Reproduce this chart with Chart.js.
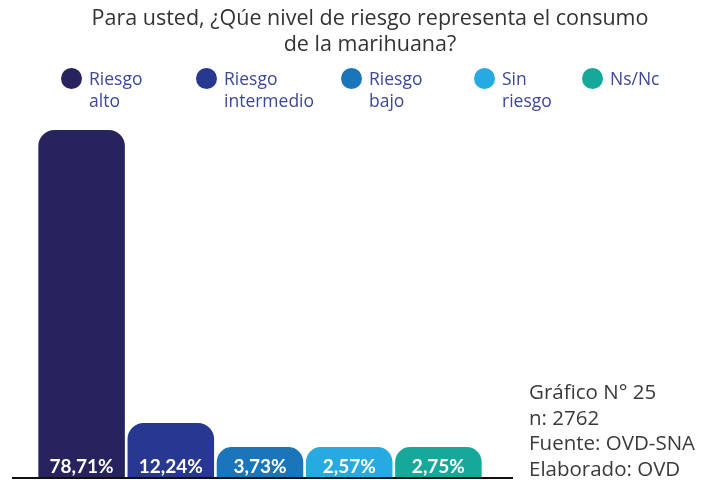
<!DOCTYPE html>
<html>
<head>
<meta charset="utf-8">
<script src="https://cdn.jsdelivr.net/npm/chart.js@4/dist/chart.umd.min.js"></script>
<style>
  body { margin: 0; background: #fff; font-family: "Open Sans", Lato, sans-serif; }
  #wrap { position: relative; width: 713px; height: 480px; overflow: hidden; }
  #graf { position: absolute; left: 0; top: 0; }
  #titulo { position: absolute; left: 0; width: 740px; top: 4px; text-align: center;
    font-size: 21.5px; line-height: 26px; color: #333; }
  #leyenda { position: absolute; top: 67px; left: 0; }
  .item { position: absolute; display: flex; font-size: 17.5px; line-height: 22px; color: #3c479a; }
  .punto { width: 21px; height: 21px; border-radius: 50%; margin-right: 7px; margin-top: 1px; flex: none; }
  #nota { position: absolute; left: 529px; top: 379px; font-size: 20.5px; line-height: 25.5px; color: #3a3a3a; }
</style>
</head>
<body>
<div id="wrap">
  <canvas id="graf" width="713" height="480"></canvas>
  <div id="titulo">Para usted, ¿Qúe nivel de riesgo representa el consumo<br>de la marihuana?</div>
  <div id="leyenda"></div>
  <div id="nota">Gráfico N° 25<br>n: 2762<br>Fuente: OVD-SNA<br>Elaborado: OVD</div>
</div>
<script>
  'use strict'

  const categorias = ["Riesgo alto", "Riesgo intermedio", "Riesgo bajo", "Sin riesgo", "Ns/Nc"];
  const leyendaLineas = [["Riesgo", "alto"], ["Riesgo", "intermedio"], ["Riesgo", "bajo"], ["Sin", "riesgo"], ["Ns/Nc"]];
  const porcentajes = [78.71, 12.24, 3.73, 2.57, 2.75];
  const colores = ["#27235f", "#283891", "#1a75bb", "#27aae1", "#16a89a"];
  const leyendaX = [61, 196, 341, 474, 582];

  // leyenda en html
  let ley = document.getElementById("leyenda");
  categorias.forEach(function (c, i) {
    let d = document.createElement("div");
    d.className = "item";
    d.style.left = leyendaX[i] + "px";
    d.innerHTML = '<span class="punto" style="background:' + colores[i] + '"></span><span>' +
      leyendaLineas[i].join("<br>") + '</span>';
    ley.appendChild(d);
  });

  const etiquetas = {
    id: 'etiquetas',
    afterDatasetsDraw(chart) {
      const ctx = chart.ctx;
      const meta = chart.getDatasetMeta(0);
      const x = chart.scales.x;
      ctx.save();
      // linea base
      ctx.strokeStyle = '#111';
      ctx.lineWidth = 2;
      ctx.beginPath();
      ctx.moveTo(x.left - 25, chart.chartArea.bottom + 1);
      ctx.lineTo(x.right + 30, chart.chartArea.bottom + 1);
      ctx.stroke();
      ctx.fillStyle = '#fff';
      ctx.font = 'bold 19px Lato, sans-serif';
      ctx.textAlign = 'center';
      ctx.textBaseline = 'alphabetic';
      meta.data.forEach(function (bar, i) {
        ctx.fillText(porcentajes[i].toFixed(2).replace('.', ',') + '%', bar.x, bar.base - 4);
      });
      ctx.restore();
    }
  };

  new Chart(document.getElementById("graf"), {
    type: 'bar',
    data: {
      labels: categorias,
      datasets: [{
        data: porcentajes,
        backgroundColor: colores,
        borderWidth: 0,
        borderRadius: { topLeft: 16, topRight: 16 },
        borderSkipped: 'bottom',
        minBarLength: 30,
        barPercentage: 0.97,
        categoryPercentage: 1
      }]
    },
    options: {
      responsive: false,
      animation: false,
      layout: { padding: { left: 37, right: 230, top: 130, bottom: 3 } },
      scales: {
        x: { display: false },
        y: { display: false, min: 0, max: 78.71 }
      },
      plugins: {
        legend: { display: false },
        tooltip: { enabled: false }
      }
    },
    plugins: [etiquetas]
  });
</script>
</body>
</html>
